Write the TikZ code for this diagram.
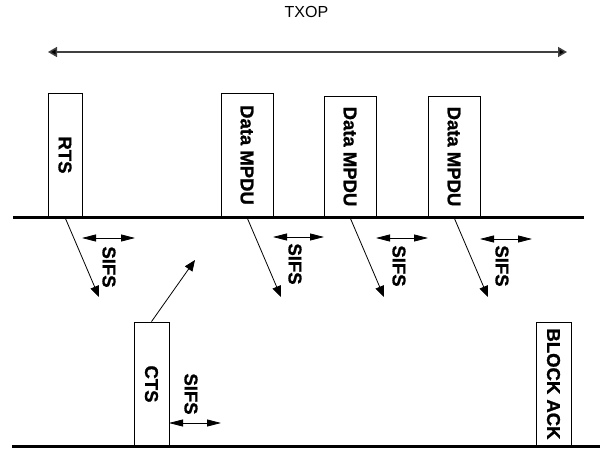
\documentclass[tikz,border=0pt]{standalone}
\usepackage{fontspec}
\setmainfont{Liberation Sans}
\newfontfamily\lblfont{Liberation Sans Bold}[FakeBold=1.2]
\usetikzlibrary{arrows.meta}
\tikzset{
  frame/.style={draw=black, line width=0.8pt, rotate=-90, minimum height=34pt, inner sep=0pt,
    font=\lblfont\fontsize{18.5}{21}\selectfont},
  sifstxt/.style={rotate=-90, inner sep=0pt, font=\lblfont\fontsize{18.5}{21}\selectfont},
  medium/.style={line width=3pt},
  sendarrow/.style={line width=0.8pt, -{Triangle[length=11pt,width=9pt]}},
  sifsarrow/.style={line width=0.8pt, {Triangle[length=14pt,width=7pt]}-{Triangle[length=14pt,width=7pt]}},
  txoparrow/.style={line width=1.5pt, draw=black!75, {Triangle[length=9pt,width=10pt,fill=black]}-{Triangle[length=9pt,width=10pt,fill=black]}}
}
\begin{document}
\begin{tikzpicture}[x=1pt,y=-1pt]
\useasboundingbox (0,0) rectangle (606,450);

% TXOP
\node[font=\fontsize{16}{18}\selectfont, inner sep=0pt] (txop) at (306.5,12) {TXOP};
\coordinate (txl) at (48,52);
\coordinate (txr) at (567,52);
\draw[txoparrow] (txl) -- (txr);

% top medium
\coordinate (m1l) at (13,217);
\coordinate (m1r) at (584,217);
\draw[medium] (m1l) -- (m1r);

% bottom medium
\coordinate (m2l) at (12,446);
\coordinate (m2r) at (600,446);
\draw[medium] (m2l) -- (m2r);

% frames on top line
\node[frame, minimum width=124pt, minimum height=34pt] (rts) at (65,155) {RTS};
\node[frame, minimum width=124pt, minimum height=52pt] (d1) at (247,155) {Data MPDU};
\node[frame, minimum width=121pt, minimum height=52pt] (d2) at (350,156.5) {Data MPDU};
\node[frame, minimum width=121pt, minimum height=52pt] (d3) at (454,156.5) {Data MPDU};

% frames on bottom line
\node[frame, minimum width=124pt, minimum height=35pt] (cts) at (151.5,384) {CTS};
\node[frame, minimum width=124pt, minimum height=35pt] (back) at (553.5,384) {BLOCK ACK};

% transmission arrows
\coordinate (rtsend) at (99,297);
\coordinate (d1end) at (281,297);
\coordinate (d2end) at (384,297);
\coordinate (d3end) at (488,297);
\coordinate (ctsend) at (195,260);
\draw[sendarrow] (rts.east) -- (rtsend);
\draw[sendarrow] (d1.east) -- (d1end);
\draw[sendarrow] (d2.east) -- (d2end);
\draw[sendarrow] (d3.east) -- (d3end);
\draw[sendarrow] (cts.west) -- (ctsend);

% SIFS arrows
\coordinate (s1a) at (82,238);  \coordinate (s1b) at (135,238);
\coordinate (s2a) at (273,237); \coordinate (s2b) at (324,237);
\coordinate (s3a) at (376,238); \coordinate (s3b) at (428,238);
\coordinate (s4a) at (480,239); \coordinate (s4b) at (532,239);
\coordinate (s5a) at (169,423); \coordinate (s5b) at (221,423);
\draw[sifsarrow] (s1a) -- (s1b);
\draw[sifsarrow] (s2a) -- (s2b);
\draw[sifsarrow] (s3a) -- (s3b);
\draw[sifsarrow] (s4a) -- (s4b);
\draw[sifsarrow] (s5a) -- (s5b);

% SIFS labels
\node[sifstxt] (l1) at (109,267) {SIFS};
\node[sifstxt] (l2) at (295,264) {SIFS};
\node[sifstxt] (l3) at (399,266) {SIFS};
\node[sifstxt] (l4) at (502,266) {SIFS};
\node[sifstxt] (l5) at (191,394) {SIFS};
\end{tikzpicture}
\end{document}
